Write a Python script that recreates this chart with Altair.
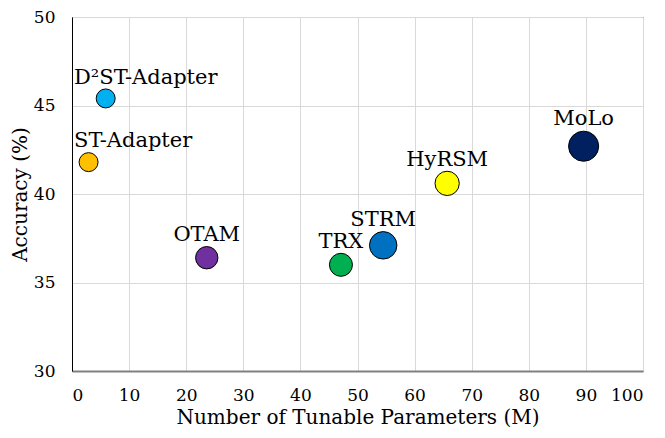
import altair as alt
import pandas as pd

names = ["D²ST-Adapter", "ST-Adapter", "OTAM", "TRX", "STRM", "HyRSM", "MoLo"]
params = [5.9, 2.9, 23.6, 47.1, 54.5, 65.7, 89.6]
accuracy = [45.4, 41.8, 36.4, 36.0, 37.1, 40.6, 42.7]
bubble = [360, 360, 500, 530, 755, 590, 908]
colors = ["#00B0F0", "#FFC000", "#7030A0", "#00B050", "#0070C0", "#FFFF00", "#002060"]
edge_labels = ["D²ST-Adapter", "ST-Adapter"]

x_ticks = list(range(0, 101, 10))
y_ticks = [30, 35, 40, 45, 50]

df = pd.DataFrame({"name": names, "params": params, "acc": accuracy, "size": bubble})

FONT = "DejaVu Serif"

x = alt.X("params:Q", scale=alt.Scale(domain=[0, 100]),
          axis=alt.Axis(values=x_ticks, title="Number of Tunable Parameters (M)"))
y = alt.Y("acc:Q", scale=alt.Scale(domain=[30, 50]),
          axis=alt.Axis(values=y_ticks, title="Accuracy (%)"))

base = alt.Chart(df)

points = base.mark_point(shape="circle", filled=True, opacity=1, stroke="black",
                         strokeWidth=1).encode(
    x=x, y=y,
    size=alt.Size("size:Q", scale=None, legend=None),
    fill=alt.Fill("name:N", scale=alt.Scale(domain=names, range=colors), legend=None),
)

dy_expr = alt.expr("-(sqrt(datum.size/PI) + 4)")

labels_center = base.transform_filter(
    alt.FieldOneOfPredicate(field="name", oneOf=[n for n in names if n not in edge_labels])
).mark_text(font=FONT, fontSize=21, color="black", baseline="alphabetic",
            align="center", dy=dy_expr).encode(
    x=x, y=y, text="name:N"
)

labels_edge = base.transform_filter(
    alt.FieldOneOfPredicate(field="name", oneOf=edge_labels)
).mark_text(font=FONT, fontSize=21, color="black", baseline="alphabetic",
            align="left", dy=dy_expr).encode(
    x=alt.value(2), y=y, text="name:N"
)

chart = alt.layer(points, labels_center, labels_edge).properties(
    width=571, height=354,
    autosize=alt.AutoSizeParams(type="none"),
    padding={"left": 64, "top": 9, "right": 14, "bottom": 59},
).configure_view(
    stroke="#333333", strokeWidth=1
).configure_axis(
    labelFont=FONT, titleFont=FONT, labelFontSize=17, titleFontSize=20,
    labelColor="black", titleColor="black", titleFontWeight="normal",
    grid=True, gridColor="#d9d9d9", gridWidth=1, ticks=False,
).configure_axisX(
    domainColor="#808080", domainWidth=2, labelPadding=16, titlePadding=4,
).configure_axisY(
    domainColor="black", domainWidth=1, labelPadding=17, titlePadding=3,
)

chart.save("out.html", embed_options={"renderer": "svg", "actions": False})
